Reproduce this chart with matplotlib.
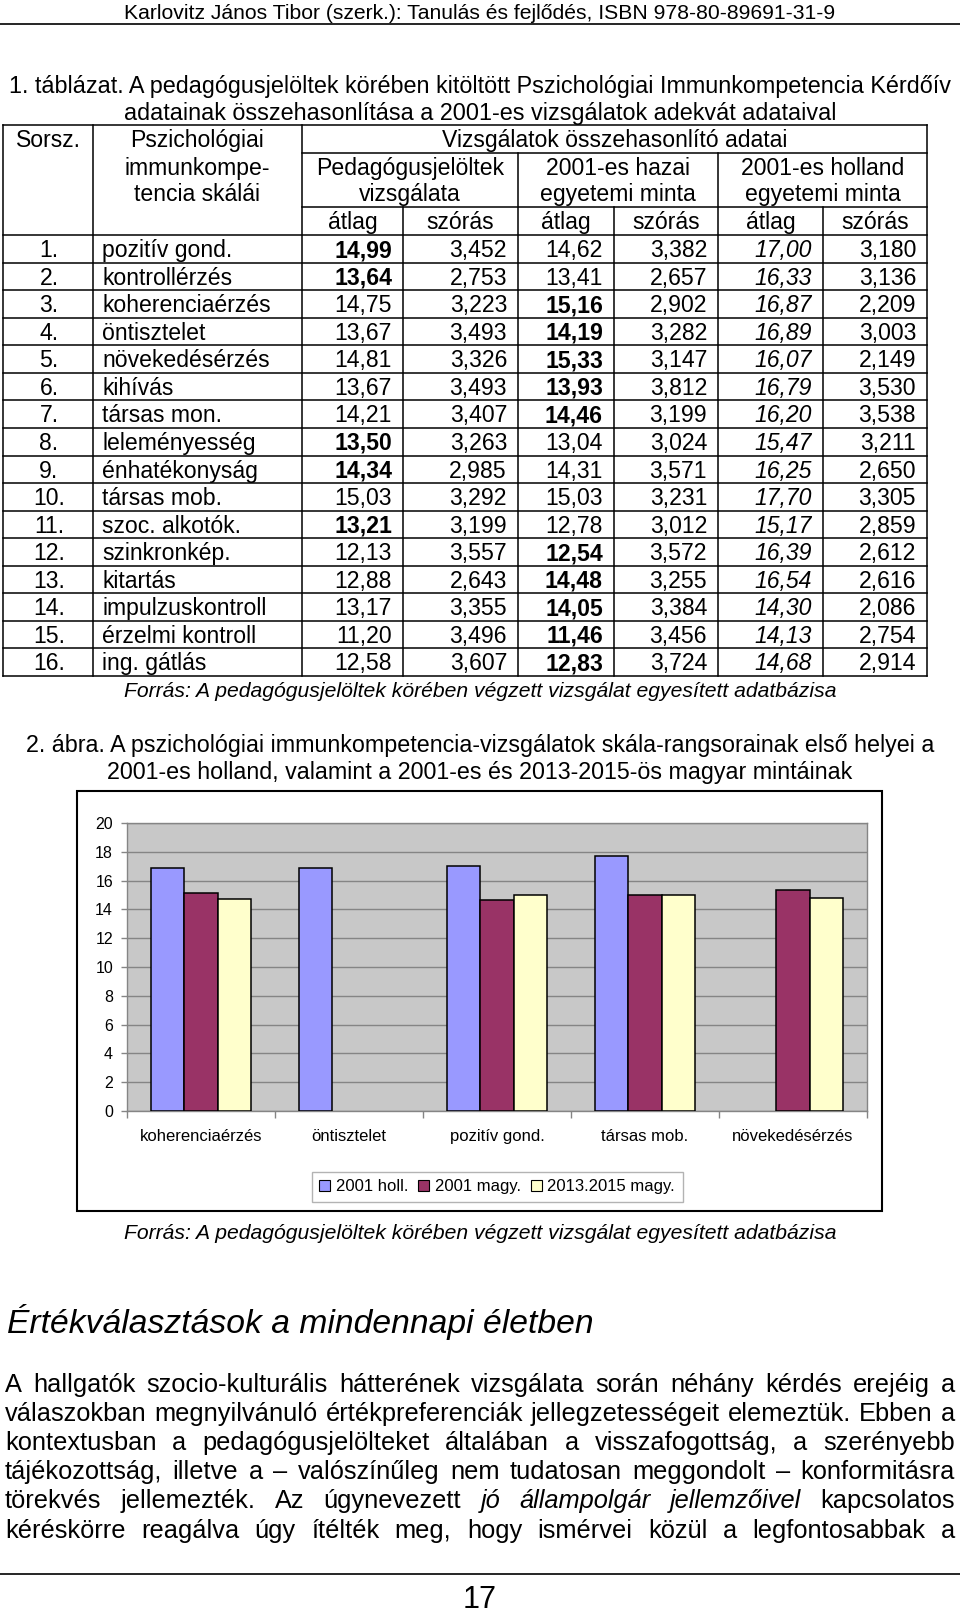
import numpy as np
import matplotlib
matplotlib.use('Agg')
import matplotlib.pyplot as plt
from matplotlib.patches import Rectangle, Patch

plt.rcParams['font.family'] = ['Liberation Sans', 'DejaVu Sans']

# ---------------- data ----------------
header_text = "Karlovitz János Tibor (szerk.): Tanulás és fejlődés, ISBN 978-80-89691-31-9"
table_caption = ["1. táblázat. A pedagógusjelöltek körében kitöltött Pszichológiai Immunkompetencia Kérdőív",
                 "adatainak összehasonlítása a 2001-es vizsgálatok adekvát adataival"]
source_text = "Forrás: A pedagógusjelöltek körében végzett vizsgálat egyesített adatbázisa"

row_no = ["1.", "2.", "3.", "4.", "5.", "6.", "7.", "8.", "9.", "10.", "11.", "12.", "13.", "14.", "15.", "16."]
scales = ["pozitív gond.", "kontrollérzés", "koherenciaérzés", "öntisztelet", "növekedésérzés",
          "kihívás", "társas mon.", "leleményesség", "énhatékonyság", "társas mob.",
          "szoc. alkotók.", "szinkronkép.", "kitartás", "impulzuskontroll", "érzelmi kontroll", "ing. gátlás"]
ped_mean = [14.99, 13.64, 14.75, 13.67, 14.81, 13.67, 14.21, 13.50, 14.34, 15.03, 13.21, 12.13, 12.88, 13.17, 11.20, 12.58]
ped_sd = [3.452, 2.753, 3.223, 3.493, 3.326, 3.493, 3.407, 3.263, 2.985, 3.292, 3.199, 3.557, 2.643, 3.355, 3.496, 3.607]
hu_mean = [14.62, 13.41, 15.16, 14.19, 15.33, 13.93, 14.46, 13.04, 14.31, 15.03, 12.78, 12.54, 14.48, 14.05, 11.46, 12.83]
hu_sd = [3.382, 2.657, 2.902, 3.282, 3.147, 3.812, 3.199, 3.024, 3.571, 3.231, 3.012, 3.572, 3.255, 3.384, 3.456, 3.724]
nl_mean = [17.00, 16.33, 16.87, 16.89, 16.07, 16.79, 16.20, 15.47, 16.25, 17.70, 15.17, 16.39, 16.54, 14.30, 14.13, 14.68]
nl_sd = [3.180, 3.136, 2.209, 3.003, 2.149, 3.530, 3.538, 3.211, 2.650, 3.305, 2.859, 2.612, 2.616, 2.086, 2.754, 2.914]

fig_caption = ["2. ábra. A pszichológiai immunkompetencia-vizsgálatok skála-rangsorainak első helyei a",
               "2001-es holland, valamint a 2001-es és 2013-2015-ös magyar mintáinak"]
categories = ["koherenciaérzés", "öntisztelet", "pozitív gond.", "társas mob.", "növekedésérzés"]
series_names = ["2001 holl.", "2001 magy.", "2013.2015 magy."]
s_holl = [16.87, 16.89, 17.00, 17.70, np.nan]
s_magy2001 = [15.16, np.nan, 14.62, 15.03, 15.33]
s_magy2013 = [14.75, np.nan, 14.99, 15.03, 14.81]
y_ticks = [0, 2, 4, 6, 8, 10, 12, 14, 16, 18, 20]

heading = "Értékválasztások a mindennapi életben"
paragraph = [
    "A hallgatók szocio-kulturális hátterének vizsgálata során néhány kérdés erejéig a",
    "válaszokban megnyilvánuló értékpreferenciák jellegzetességeit elemeztük. Ebben a",
    "kontextusban a pedagógusjelölteket általában a visszafogottság, a szerényebb",
    "tájékozottság, illetve a – valószínűleg nem tudatosan meggondolt – konformitásra",
    "törekvés jellemezték. Az úgynevezett _jó _állampolgár _jellemzőivel kapcsolatos",
    "kéréskörre reagálva úgy ítélték meg, hogy ismérvei közül a legfontosabbak a",
]
page_number = "17"

# ---------------- page ----------------
W, H = 960, 1613
fig = plt.figure(figsize=(W / 100, H / 100), dpi=100)
page = fig.add_axes([0, 0, 1, 1])
page.set_xlim(0, W)
page.set_ylim(H, 0)
page.axis('off')
R = fig.canvas.get_renderer()


def em(size):
    return size * 100 / 72


def put(x, yc, s, size, ha='center', **kw):
    """place text with visual (cap) centre at yc"""
    return page.text(x, yc + 0.358 * em(size), s, fontsize=size, ha=ha, va='baseline', **kw)


def fit_size(s, width, **kw):
    t = page.text(0, 0, s, fontsize=20, **kw)
    w = t.get_window_extent(R).width
    t.remove()
    return 20 * width / w


def hline(y, x0, x1, lw=1.1, c='black'):
    page.plot([x0, x1], [y, y], color=c, lw=lw, solid_capstyle='projecting')


def vline(x, y0, y1, lw=1.1, c='black'):
    page.plot([x, x], [y0, y1], color=c, lw=lw, solid_capstyle='projecting')


# running header
hs = fit_size(header_text, 712)
put(480, 11.5, header_text, hs)
hline(24, 0, W, lw=1.2)

# table caption
cs = fit_size(table_caption[0], 937)
put(480, 85, table_caption[0], cs)
put(480, 112, table_caption[1], cs)

# ---------------- table ----------------
TS = 16.6
cols = [3, 93, 302, 403, 518, 614, 718, 823, 927]
top, h1, h2, h3 = 125, 153, 207, 235
row_h = (676 - h3) / len(scales)
bottom = h3 + row_h * len(scales)

hline(top, cols[0], cols[-1])
hline(h1, cols[2], cols[-1])
hline(h2, cols[2], cols[-1])
for i in range(len(scales) + 1):
    hline(h3 + i * row_h, cols[0], cols[-1])
for x in (cols[0], cols[1], cols[2], cols[-1]):
    vline(x, top, bottom)
for x in (cols[4], cols[6]):
    vline(x, h1, bottom)
for x in (cols[3], cols[5], cols[7]):
    vline(x, h2, bottom)

put((cols[0] + cols[1]) / 2, 139, "Sorsz.", TS)
for yc, s in zip((139, 167, 193), ("Pszichológiai", "immunkompe-", "tencia skálái")):
    put((cols[1] + cols[2]) / 2, yc, s, TS)
put((cols[2] + cols[-1]) / 2, 139, "Vizsgálatok összehasonlító adatai", TS)
for (a, b), (l1, l2) in zip(((cols[2], cols[4]), (cols[4], cols[6]), (cols[6], cols[8])),
                            (("Pedagógusjelöltek", "vizsgálata"), ("2001-es hazai", "egyetemi minta"),
                             ("2001-es holland", "egyetemi minta"))):
    put((a + b) / 2, 167, l1, TS)
    put((a + b) / 2, 193, l2, TS)
for j in range(6):
    put((cols[2 + j] + cols[3 + j]) / 2, 221, "átlag" if j % 2 == 0 else "szórás", TS)


def f2(v):
    return f"{v:.2f}".replace('.', ',')


def f3(v):
    return f"{v:.3f}".replace('.', ',')


pad = 11
for i in range(len(scales)):
    yc = h3 + (i + 0.5) * row_h
    put(49, yc, row_no[i], TS)
    put(cols[1] + 9, yc, scales[i], TS, ha='left')
    put(cols[3] - pad, yc, f2(ped_mean[i]), TS, ha='right',
        weight='bold' if ped_mean[i] > hu_mean[i] else 'normal')
    put(cols[4] - pad, yc, f3(ped_sd[i]), TS, ha='right')
    put(cols[5] - pad, yc, f2(hu_mean[i]), TS, ha='right',
        weight='bold' if hu_mean[i] > ped_mean[i] else 'normal')
    put(cols[6] - pad, yc, f3(hu_sd[i]), TS, ha='right')
    put(cols[7] - pad, yc, f2(nl_mean[i]), TS, ha='right', style='italic')
    put(cols[8] - pad, yc, f3(nl_sd[i]), TS, ha='right')

ss = fit_size(source_text, 708, style='italic')
put(480, 689, source_text, ss, style='italic')

# figure caption
fs = fit_size(fig_caption[0], 904)
put(480, 744, fig_caption[0], fs)
put(480, 771, fig_caption[1], fs)

# ---------------- chart ----------------
page.add_patch(Rectangle((77, 791), 805, 420, fill=False, ec='black', lw=1.5))

ax = fig.add_axes([127 / W, 1 - 1111 / H, 740 / W, 288 / H])
ax.set_facecolor('#c8c8c8')
xc = np.arange(len(categories))
bw = 0.223
colors = ['#9999ff', '#993366', '#ffffcc']
for k, vals in enumerate((s_holl, s_magy2001, s_magy2013)):
    ax.bar(xc + (k - 1) * bw, vals, bw, color=colors[k], edgecolor='black', linewidth=1.1, zorder=3)
ax.set_xlim(-0.5, len(categories) - 0.5)
ax.set_ylim(0, 20)
ax.set_yticks(y_ticks)
ax.yaxis.grid(True, color='#858585', lw=1.0, zorder=0)
ax.set_axisbelow(True)
ax.set_xticks(np.arange(-0.5, len(categories), 1))
ax.set_xticklabels([])
ax.set_xticks(xc, minor=True)
ax.set_xticklabels(categories, minor=True)
ax.tick_params(axis='x', which='major', length=5, color='#858585', width=1)
ax.tick_params(axis='x', which='minor', length=0, pad=13, labelsize=12)
ax.tick_params(axis='y', length=4, color='#858585', width=1, pad=6, labelsize=11.5)
for s in ax.spines.values():
    s.set_color('#858585')
    s.set_linewidth(1.0)

handles = [Patch(facecolor=c, edgecolor='black', lw=0.8) for c in colors]
leg = fig.legend(handles, series_names, loc='center', bbox_to_anchor=(497 / W, 1 - 1186.5 / H),
                 bbox_transform=fig.transFigure, ncol=3, frameon=True, fancybox=False,
                 edgecolor='#a0a0a0', fontsize=12, handlelength=0.65, handleheight=0.65,
                 handletextpad=0.35, columnspacing=0.6, borderpad=0.45, borderaxespad=0)
leg.get_frame().set_linewidth(1.0)

put(480, 1231, source_text, ss, style='italic')

# ---------------- heading & paragraph ----------------
hd = fit_size(heading, 583, style='italic')
put(7, 1321, heading, hd, ha='left', style='italic')

PS = 18.3
line_c = [1383, 1412, 1441, 1470, 1499, 1529]
x_left, x_right = 5, 955
for yc, line in zip(line_c, paragraph):
    words = line.split(' ')
    texts = []
    for w in words:
        ital = w.startswith('_')
        texts.append(put(0, yc, w.lstrip('_'), PS, ha='left', style='italic' if ital else 'normal'))
    widths = [t.get_window_extent(R).width for t in texts]
    gap = (x_right - x_left - sum(widths)) / (len(texts) - 1)
    x = x_left
    for t, w in zip(texts, widths):
        t.set_x(x)
        x += w + gap

hline(1574, 0, W, lw=1.2)
put(480, 1597, page_number, 22)

fig.savefig('out.png', dpi=100, facecolor='white')
